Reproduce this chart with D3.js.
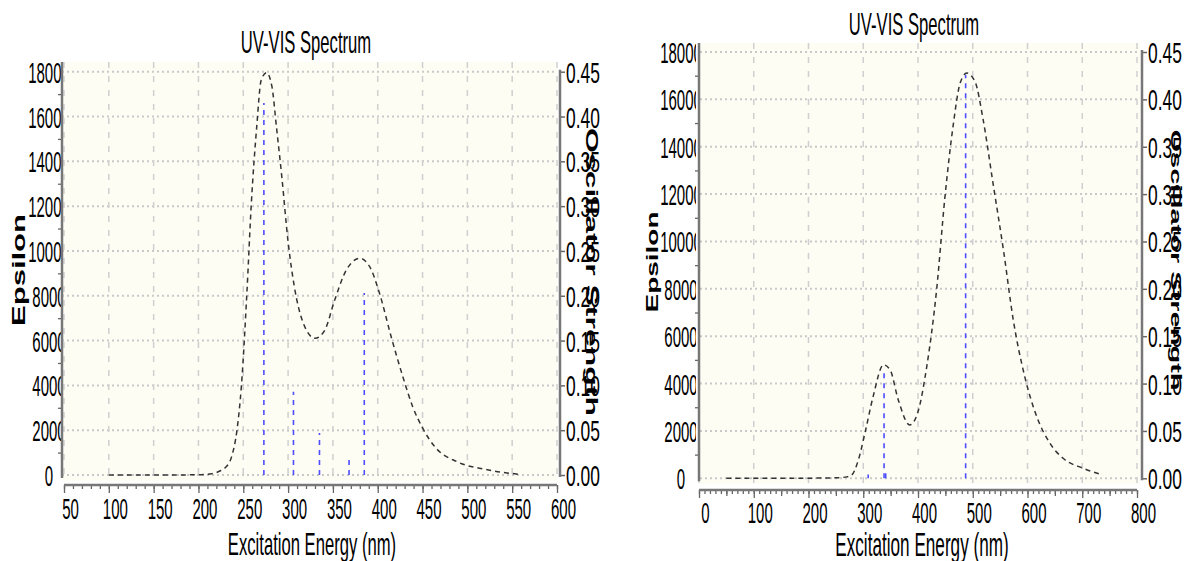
<!DOCTYPE html>
<html>
<head>
<meta charset="utf-8">
<script src="https://cdn.jsdelivr.net/npm/d3@7"></script>
<style>
body { margin: 0; background: #fff; }
svg { display: block; }
text { font-family: "Liberation Sans", Arial, sans-serif; fill: #000; }
</style>
</head>
<body>
<div id="chart"></div>
<script>
// left spectrum
var wlA = [100, 150, 200, 215, 225, 230, 237, 243, 248, 254, 259, 265, 270, 276, 282, 287, 293, 300, 307, 317, 330, 341, 352, 365, 380, 391, 402, 415, 428, 439, 450, 465, 488, 520, 558];
var epsA = [0, 0, 10, 60, 200, 330, 820, 2010, 4020, 8100, 12130, 15540, 17630, 17960, 17330, 15540, 13310, 10410, 8400, 6770, 6100, 6470, 7810, 9150, 9670, 9300, 8110, 6170, 4390, 3050, 2100, 1200, 600, 250, 30];
var stickWlA = [273, 306, 335, 368, 385];
var stickOscA = [0.415, 0.093, 0.047, 0.022, 0.203];
var xTicksA = [50, 100, 150, 200, 250, 300, 350, 400, 450, 500, 550, 600];

// right spectrum
var wlB = [50, 150, 250, 270, 279, 291, 303, 318, 337, 349, 364, 385, 400, 416, 434, 449, 464, 477, 489, 504, 519, 537, 556, 574, 595, 617, 641, 665, 702, 737];
var epsB = [0, 0, 20, 60, 140, 770, 1900, 3450, 4790, 4580, 3310, 2250, 2810, 4720, 7960, 11830, 14860, 16690, 17110, 16760, 15140, 12460, 9650, 6690, 4290, 2600, 1480, 845, 420, 140];
var stickWlB = [309, 338, 341, 487];
var stickOscB = [0.004, 0.113, 0.006, 0.426];
var xTicksB = [0, 100, 200, 300, 400, 500, 600, 700, 800];

var epsTicks = [0, 2000, 4000, 6000, 8000, 10000, 12000, 14000, 16000, 18000];
var oscTicks = [0, 0.05, 0.10, 0.15, 0.20, 0.25, 0.30, 0.35, 0.40, 0.45];

var width = 1192;
var height = 561;

var svg = d3.select('#chart')
            .append('svg')
            .attr('width', width)
            .attr('height', height);

function drawPanel(p) {
  var x = d3.scaleLinear().domain(p.xDomain).range([p.x0, p.x1]);
  var y = d3.scaleLinear().domain([0, 18000]).range([p.yBot, p.yTop]);
  var y2 = d3.scaleLinear().domain([0, 0.45]).range([p.yBot, p.yTop]);

  var g = svg.append('g');

  // plot background
  g.append('rect')
    .attr('x', p.bg[0]).attr('y', p.bg[1])
    .attr('width', p.bg[2] - p.bg[0]).attr('height', p.bg[3] - p.bg[1])
    .attr('fill', '#fdfdf4');

  // grid
  g.selectAll('.hgrid').data(epsTicks).enter().append('line')
    .attr('x1', p.bg[0]).attr('x2', p.bg[2])
    .attr('y1', function(d){ return y(d); }).attr('y2', function(d){ return y(d); })
    .attr('stroke', '#c9c9c9').attr('stroke-width', 2).attr('stroke-dasharray', '2,3');
  g.selectAll('.vgrid').data(p.xTicks).enter().append('line')
    .attr('x1', function(d){ return x(d); }).attr('x2', function(d){ return x(d); })
    .attr('y1', p.bg[1]).attr('y2', p.bg[3])
    .attr('stroke', '#cfcfcf').attr('stroke-width', 1.5).attr('stroke-dasharray', '6,8');

  // oscillator sticks
  g.selectAll('.stick').data(p.stickWl).enter().append('line')
    .attr('x1', function(d){ return x(d); }).attr('x2', function(d){ return x(d); })
    .attr('y1', y2(0)).attr('y2', function(d, i){ return y2(p.stickOsc[i]); })
    .attr('stroke', '#4d4dff').attr('stroke-width', 1.6).attr('stroke-dasharray', '5,5');

  // spectrum curve
  var line = d3.line()
    .x(function(d){ return x(d[0]); })
    .y(function(d){ return y(d[1]); })
    .curve(d3.curveMonotoneX);
  g.append('path')
    .datum(p.wl.map(function(w, i){ return [w, p.eps[i]]; }))
    .attr('d', line)
    .attr('fill', 'none').attr('stroke', '#333').attr('stroke-width', 1.5)
    .attr('stroke-dasharray', '5,4');

  // bottom axis
  var xb = g.append('g').attr('transform', 'translate(0,' + p.axisBottom + ')');
  xb.append('g').call(d3.axisBottom(x).tickValues(d3.range(p.xDomain[0], p.xDomain[1] + 1, 10)).tickSize(4).tickFormat(''))
    .call(function(s){ s.select('.domain').remove(); });
  if (p.midTicks) {
    xb.append('g').call(d3.axisBottom(x).tickValues(d3.range(p.xDomain[0] + 50, p.xDomain[1], 100)).tickSize(6).tickFormat(''))
      .call(function(s){ s.select('.domain').remove(); });
  }
  var xa = xb.append('g').call(d3.axisBottom(x).tickValues(p.xTicks).tickSize(8).tickFormat(d3.format('d')));
  xa.select('.domain').remove();
  xb.selectAll('line').attr('stroke', '#666').attr('stroke-width', 1.3);
  xa.selectAll('text')
    .attr('y', p.xLabelDy).attr('dy', null)
    .attr('font-size', 30)
    .attr('transform', 'translate(6,0) scale(0.5,1)');
  xb.append('line').attr('x1', p.x0).attr('x2', p.x1).attr('y1', 0).attr('y2', 0)
    .attr('stroke', '#777').attr('stroke-width', 2.5);

  // left axis, labels clipped at the axis line
  var clipId = 'clip' + p.id;
  svg.append('clipPath').attr('id', clipId).append('rect')
    .attr('x', 0).attr('y', 0).attr('width', p.clipX).attr('height', height);
  var yl = g.append('g').attr('clip-path', 'url(#' + clipId + ')')
    .append('g').attr('transform', 'translate(' + p.axisLeft + ',0)');
  yl.call(d3.axisLeft(y).tickValues(epsTicks).tickSize(0).tickFormat(d3.format('d')));
  yl.select('.domain').remove();
  yl.selectAll('text')
    .attr('x', 0).attr('dy', '0.35em')
    .attr('text-anchor', 'middle')
    .attr('font-size', 30)
    .attr('transform', 'translate(' + (p.labelCx - p.axisLeft) + ',0) scale(0.5,1)');
  var ylm = g.append('g').attr('transform', 'translate(' + p.axisLeft + ',0)');
  ylm.call(d3.axisLeft(y).tickValues(d3.range(1000, 18000, 2000)).tickSize(4).tickFormat(''));
  ylm.select('.domain').remove();
  ylm.selectAll('line').attr('stroke', '#666').attr('stroke-width', 1.3);
  g.append('line').attr('x1', p.axisLeft).attr('x2', p.axisLeft).attr('y1', p.bg[1]).attr('y2', p.yBot + 3)
    .attr('stroke', '#777').attr('stroke-width', 2.5);

  // right axis
  var yr = g.append('g').attr('transform', 'translate(' + p.axisRight + ',0)');
  yr.call(d3.axisRight(y2).tickValues(oscTicks).tickSize(5).tickFormat(d3.format('.2f')));
  yr.select('.domain').remove();
  yr.selectAll('line').attr('stroke', '#666').attr('stroke-width', 1.5);
  yr.selectAll('text')
    .attr('x', 0).attr('dy', '0.35em')
    .attr('font-size', 30)
    .attr('transform', 'translate(6,0) scale(0.58,1)');
  g.append('line').attr('x1', p.axisRight).attr('x2', p.axisRight).attr('y1', p.yTop - 2).attr('y2', p.yBot + 2)
    .attr('stroke', '#777').attr('stroke-width', 2.5);

  // titles
  g.append('text')
    .attr('transform', 'translate(' + p.titleX + ',' + p.titleY + ') scale(0.52,1)')
    .attr('text-anchor', 'middle').attr('font-size', 32)
    .text('UV-VIS Spectrum');
  g.append('text')
    .attr('transform', 'translate(' + p.xTitleX + ',' + p.xTitleY + ') scale(0.52,1)')
    .attr('text-anchor', 'middle').attr('font-size', p.xTitleSize)
    .text('Excitation Energy (nm)');
  g.append('text')
    .attr('transform', 'translate(' + p.epsX + ',' + p.epsY + ') scale(0.58,1) rotate(-90)')
    .attr('text-anchor', 'middle').attr('dy', '0.35em')
    .attr('font-size', p.epsSize).attr('font-weight', 'bold')
    .text('Epsilon');
  g.append('text')
    .attr('transform', 'translate(' + p.oscX + ',' + p.oscY + ') scale(0.52,1) rotate(90)')
    .attr('text-anchor', 'middle').attr('dy', '0.35em')
    .attr('font-size', p.oscSize).attr('font-weight', 'bold')
    .text('Oscillator Strength');
}

drawPanel({
  id: 'A', xDomain: [50, 600], xTicks: xTicksA,
  wl: wlA, eps: epsA, stickWl: stickWlA, stickOsc: stickOscA,
  x0: 64, x1: 557, yTop: 71.7, yBot: 475,
  bg: [62, 62, 557, 481],
  axisLeft: 62, axisRight: 560, axisBottom: 485, xLabelDy: 34.5,
  labelCx: 49, clipX: 61, midTicks: false,
  titleX: 306, titleY: 53, xTitleX: 312, xTitleY: 555, xTitleSize: 32,
  epsX: 19, epsY: 270, epsSize: 31,
  oscX: 592, oscY: 272, oscSize: 32
});

drawPanel({
  id: 'B', xDomain: [0, 800], xTicks: xTicksB,
  wl: wlB, eps: epsB, stickWl: stickWlB, stickOsc: stickOscB,
  x0: 699, x1: 1137, yTop: 52, yBot: 478.3,
  bg: [700, 43, 1140, 484],
  axisLeft: 699, axisRight: 1142, axisBottom: 490, xLabelDy: 33.5,
  labelCx: 681, clipX: 696, midTicks: true,
  titleX: 914, titleY: 35, xTitleX: 922, xTitleY: 556, xTitleSize: 33,
  epsX: 652, epsY: 262, epsSize: 28,
  oscX: 1176, oscY: 260, oscSize: 29
});
</script>
</body>
</html>
